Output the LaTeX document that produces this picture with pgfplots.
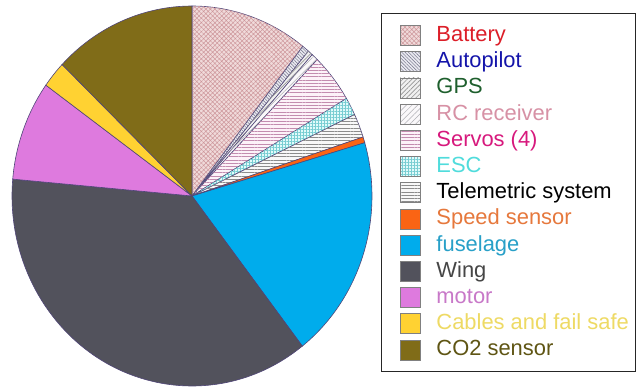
\documentclass[border=0pt]{standalone}
\usepackage{pgfplots}
\pgfplotsset{compat=1.18}
\usepackage{fontspec}
\setmainfont{Liberation Sans}
\usetikzlibrary{patterns,patterns.meta}
\definecolor{batF}{RGB}{240,218,218}\definecolor{batP}{RGB}{205,150,155}\definecolor{batT}{RGB}{220,30,40}
\definecolor{autF}{RGB}{235,235,242}\definecolor{autP}{RGB}{130,130,150}\definecolor{autT}{RGB}{20,20,170}
\definecolor{gpsF}{RGB}{240,240,240}\definecolor{gpsP}{RGB}{150,150,150}\definecolor{gpsT}{RGB}{30,95,45}
\definecolor{rcF}{RGB}{250,248,250}\definecolor{rcP}{RGB}{175,175,180}\definecolor{rcT}{RGB}{215,145,165}
\definecolor{srvF}{RGB}{252,242,248}\definecolor{srvP}{RGB}{195,140,175}\definecolor{srvT}{RGB}{215,25,125}
\definecolor{escF}{RGB}{225,250,250}\definecolor{escP}{RGB}{120,205,210}\definecolor{escT}{RGB}{80,220,220}
\definecolor{telF}{RGB}{248,248,248}\definecolor{telP}{RGB}{140,140,140}\definecolor{telT}{RGB}{0,0,0}
\definecolor{spdF}{RGB}{250,100,20}\definecolor{spdT}{RGB}{230,120,60}
\definecolor{fusF}{RGB}{0,172,236}\definecolor{fusT}{RGB}{40,160,200}
\definecolor{wngF}{RGB}{82,82,92}\definecolor{wngT}{RGB}{70,70,70}
\definecolor{motF}{RGB}{222,122,222}\definecolor{motT}{RGB}{200,120,200}
\definecolor{cabF}{RGB}{255,210,50}\definecolor{cabT}{RGB}{238,218,100}
\definecolor{co2F}{RGB}{128,108,24}\definecolor{co2T}{RGB}{95,85,20}
\definecolor{edge}{RGB}{80,70,120}
\tikzset{
  pbat/.style={fill=batF, postaction={pattern={Hatch[distance=1.6pt, angle=45, line width=0.25pt]}, pattern color=batP}},
  paut/.style={fill=autF, postaction={pattern={Lines[distance=1.2pt, angle=-45, line width=0.3pt]}, pattern color=autP}},
  pgps/.style={fill=gpsF, postaction={pattern={Lines[distance=1.6pt, angle=45, line width=0.3pt]}, pattern color=gpsP}},
  prc/.style={fill=rcF, postaction={pattern={Lines[distance=2pt, angle=45, line width=0.25pt]}, pattern color=rcP}},
  psrv/.style={fill=srvF, postaction={pattern={Lines[distance=1.6pt, angle=0, line width=0.3pt]}, pattern color=srvP}},
  pesc/.style={fill=escF, postaction={pattern={Hatch[distance=1.5pt, angle=0, line width=0.25pt]}, pattern color=escP}},
  ptel/.style={fill=telF, postaction={pattern={Lines[distance=1.6pt, angle=0, line width=0.3pt]}, pattern color=telP}},
}
% slice: start angle, end angle (degrees clockwise from top), style
\newcommand\slice[3]{%
  \filldraw[draw=edge, line width=0.3pt, #3] (axis cs:192,191) -- (axis cs:{192+180*sin(#1)},{191+190*cos(#1)})
    arc[start angle={90-#1}, end angle={90-#2}, x radius=90pt, y radius=95pt] -- cycle;}
\begin{document}
\begin{tikzpicture}
\begin{axis}[x=0.5pt, y=0.5pt, xmin=0, xmax=639, ymin=0, ymax=387, hide axis,
  legend style={at={(axis cs:381,374)}, anchor=north west, draw=black!85, line width=0.6pt, fill=white,
    inner xsep=3.3pt, inner ysep=5.5pt, row sep=2.2pt, column sep=8pt,
    nodes={font=\fontsize{10.95}{13}\selectfont, inner sep=0pt, text height=8.4pt, text depth=2.5pt}},
  legend cell align=left,
  sw/.style={legend image code/.code={\path (0pt,0pt); \draw[##1, line width=0.3pt] (5.7pt,-5pt) rectangle (15.7pt,5pt);}}]
% legend entries
\addlegendimage{sw, draw=gray, pbat}
\addlegendentry{\textcolor{batT}{Battery}}
\addlegendimage{sw, draw=gray, paut}
\addlegendentry{\textcolor{autT}{Autopilot}}
\addlegendimage{sw, draw=gray, pgps}
\addlegendentry{\textcolor{gpsT}{GPS}}
\addlegendimage{sw, draw=gray, prc}
\addlegendentry{\textcolor{rcT}{RC receiver}}
\addlegendimage{sw, draw=gray, psrv}
\addlegendentry{\textcolor{srvT}{Servos (4)}}
\addlegendimage{sw, draw=gray, pesc}
\addlegendentry{\textcolor{escT}{ESC}}
\addlegendimage{sw, draw=gray, ptel}
\addlegendentry{\textcolor{telT}{Telemetric system}}
\addlegendimage{sw, draw=gray, fill=spdF}
\addlegendentry{\textcolor{spdT}{Speed sensor}}
\addlegendimage{sw, draw=gray, fill=fusF}
\addlegendentry{\textcolor{fusT}{fuselage}}
\addlegendimage{sw, draw=gray, fill=wngF}
\addlegendentry{\textcolor{wngT}{Wing}}
\addlegendimage{sw, draw=gray, fill=motF}
\addlegendentry{\textcolor{motT}{motor}}
\addlegendimage{sw, draw=gray, fill=cabF}
\addlegendentry{\textcolor{cabT}{Cables and fail safe}}
\addlegendimage{sw, draw=gray, fill=co2F}
\addlegendentry{\textcolor{co2T}{CO2 sensor}}
% pie slices
\slice{0}{38.0}{pbat}
\slice{38.0}{40.3}{paut}
\slice{40.3}{41.9}{pgps}
\slice{41.9}{44.1}{prc}
\slice{44.1}{59.1}{psrv}
\slice{59.1}{64.6}{pesc}
\slice{64.6}{71.9}{ptel}
\slice{71.9}{73.7}{fill=spdF}
\slice{73.7}{142.2}{fill=fusF}
\slice{142.2}{275.1}{fill=wngF}
\slice{275.1}{305.7}{fill=motF}
\slice{305.7}{313.8}{fill=cabF}
\slice{313.8}{360}{fill=co2F}
\end{axis}
\path (current axis.south west) rectangle (current axis.north east);
\end{tikzpicture}
\end{document}
